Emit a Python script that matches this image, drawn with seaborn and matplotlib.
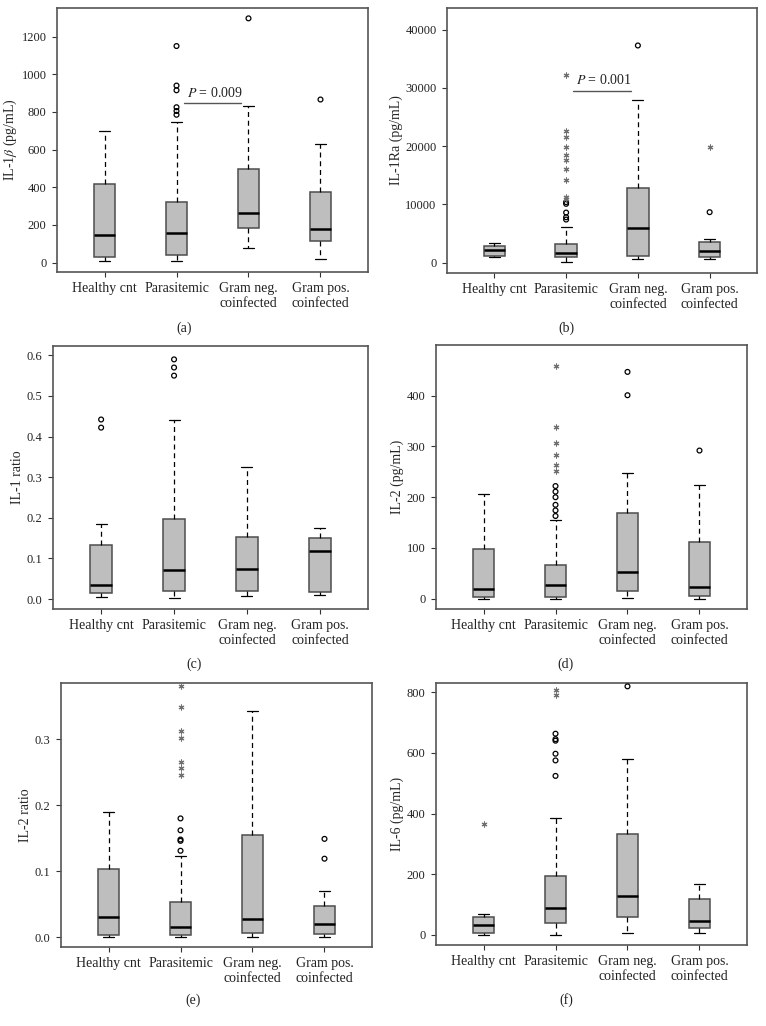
import matplotlib
matplotlib.use("Agg")
import matplotlib.pyplot as plt
import seaborn as sns

groups = ["Healthy cnt", "Parasitemic", "Gram neg.\ncoinfected", "Gram pos.\ncoinfected"]

# box stats per group: [low whisker, Q1, median, Q3, high whisker]
il1b_box = [[11, 31, 144, 415, 701], [9, 41, 158, 323, 744],
            [75, 183, 261, 497, 832], [18, 117, 178, 377, 632]]
il1b_circles = [[], [1150, 940, 915, 825, 805, 785], [1297], [866]]
il1b_stars = [[], [], [], []]

il1ra_box = [[975, 1200, 2240, 2810, 3440], [60, 920, 1720, 3210, 6140],
             [570, 1200, 5910, 12860, 28000], [630, 1030, 2010, 3500, 4075]]
il1ra_circles = [[], [10400, 10100, 8600, 7800, 7400], [37300], [8670]]
il1ra_stars = [[], [32300, 22600, 21600, 19800, 18500, 17600, 16000, 14200, 11300, 10900], [], [19860]]

il1ratio_box = [[0.005, 0.014, 0.034, 0.133, 0.184], [0.002, 0.020, 0.072, 0.196, 0.442],
                [0.008, 0.020, 0.073, 0.153, 0.326], [0.010, 0.018, 0.118, 0.151, 0.175]]
il1ratio_circles = [[0.442, 0.422], [0.590, 0.570, 0.550], [], []]
il1ratio_stars = [[], [], [], []]

il2_box = [[0, 3.3, 19, 97, 207], [0, 3.3, 27, 66, 155],
           [1.3, 15, 52, 169, 247], [0, 6, 23, 111, 224]]
il2_circles = [[], [222, 211, 200, 185, 174, 163], [447, 401], [292]]
il2_stars = [[], [458, 339, 306, 283, 264, 252], [], []]

il2ratio_box = [[0.001, 0.003, 0.030, 0.104, 0.190], [0.001, 0.003, 0.015, 0.054, 0.123],
                [0.001, 0.007, 0.027, 0.155, 0.343], [0.001, 0.005, 0.020, 0.048, 0.070]]
il2ratio_circles = [[], [0.180, 0.162, 0.148, 0.146, 0.131], [], [0.149, 0.119]]
il2ratio_stars = [[], [0.381, 0.348, 0.313, 0.302, 0.266, 0.256, 0.245], [], []]

il6_box = [[1, 6.6, 33, 59, 68], [1, 39, 89, 195, 385],
           [6.6, 59, 128, 332, 580], [5.5, 23, 47, 118, 167]]
il6_circles = [[], [663, 645, 640, 597, 575, 524], [819], []]
il6_stars = [[364], [808, 789], [], []]

# p-value brackets: (y, text)
pvals = {"a": (845, "$P$ = 0.009"), "b": (29560, "$P$ = 0.001")}

sns.set_theme(style="ticks")
plt.rcParams["font.family"] = ["Liberation Serif", "DejaVu Serif"]
plt.rcParams["mathtext.fontset"] = "stix"

W, H = 766, 1026
fig = plt.figure(figsize=(W / 100, H / 100), dpi=100)


def px_rect(l, t, r, b):
    return [l / W, 1 - b / H, (r - l) / W, (b - t) / H]


def draw_panel(ax, box, circles, stars, ylabel, ylim, yticks, yfmt):
    stats = [dict(whislo=b[0], q1=b[1], med=b[2], q3=b[3], whishi=b[4], fliers=[]) for b in box]
    ax.bxp(stats, positions=range(4), widths=0.3, patch_artist=True, showfliers=False,
           boxprops=dict(facecolor="#bebebe", edgecolor="#4d4d4d", linewidth=1.1),
           medianprops=dict(color="black", linewidth=1.8, solid_capstyle="butt"),
           whiskerprops=dict(color="black", linewidth=0.9, linestyle=(0, (4, 3))),
           capprops=dict(color="black", linewidth=0.9))
    cx = [i for i, v in enumerate(circles) for _ in v]
    cy = [y for v in circles for y in v]
    if cy:
        sns.scatterplot(x=cx, y=cy, ax=ax, marker="o", s=12, fc="none", ec="black",
                        linewidth=0.9, legend=False, zorder=3)
    sx = [i for i, v in enumerate(stars) for _ in v]
    sy = [y for v in stars for y in v]
    if sy:
        sns.scatterplot(x=sx, y=sy, ax=ax, marker=(6, 2, 0), s=13, color="#707070",
                        linewidth=0.8, legend=False, zorder=3)
    ax.set_xlim(-0.66, 3.66)
    ax.set_ylim(*ylim)
    ax.set_yticks(yticks)
    ax.set_yticklabels([yfmt.format(t) for t in yticks], fontsize=9)
    ax.set_xticks(range(4))
    ax.set_xticklabels(groups, fontsize=10, linespacing=1.15)
    ax.set_ylabel(ylabel, fontsize=10, labelpad=2)
    ax.set_xlabel("")
    ax.tick_params(axis="both", direction="out", length=3.5, width=0.8, color="#333333",
                   pad=4, labelcolor="#222222")
    for sp in ax.spines.values():
        sp.set_visible(True)
        sp.set_color("#555555")
        sp.set_linewidth(1.2)


panels = [
    ("a", px_rect(57, 8, 368, 272), il1b_box, il1b_circles, il1b_stars,
     r"IL-1$\it{\beta}$ (pg/mL)", (-50, 1352), list(range(0, 1201, 200)), "{:d}", (184, 328)),
    ("b", px_rect(447, 8, 757, 273), il1ra_box, il1ra_circles, il1ra_stars,
     "IL-1Ra (pg/mL)", (-1780, 43740), list(range(0, 40001, 10000)), "{:d}", (566, 328)),
    ("c", px_rect(53, 346, 368, 609), il1ratio_box, il1ratio_circles, il1ratio_stars,
     "IL-1 ratio", (-0.0246, 0.623), [0, 0.1, 0.2, 0.3, 0.4, 0.5, 0.6], "{:.1f}", (194, 664)),
    ("d", px_rect(436, 345, 747, 609), il2_box, il2_circles, il2_stars,
     "IL-2 (pg/mL)", (-20.3, 500), [0, 100, 200, 300, 400], "{:d}", (566, 664)),
    ("e", px_rect(61, 683, 372, 947), il2ratio_box, il2ratio_circles, il2ratio_stars,
     "IL-2 ratio", (-0.0147, 0.385), [0, 0.1, 0.2, 0.3], "{:.1f}", (193, 1000)),
    ("f", px_rect(436, 683, 747, 945), il6_box, il6_circles, il6_stars,
     "IL-6 (pg/mL)", (-33, 830), [0, 200, 400, 600, 800], "{:d}", (566, 1000)),
]

for tag, rect, box, circ, star, ylab, ylim, yt, fmt, tagpos in panels:
    ax = fig.add_axes(rect)
    draw_panel(ax, box, circ, star, ylab, ylim, yt, fmt)
    if tag in pvals:
        y, txt = pvals[tag]
        ax.plot([1.10, 1.90], [y, y], color="#555555", linewidth=1.0)
        ax.text(1.53, y + (ylim[1] - ylim[0]) * 0.012, txt, ha="center", va="bottom",
                fontsize=10, color="#222222")
    fig.text(tagpos[0] / W, 1 - tagpos[1] / H, f"({tag})", ha="center", va="center",
             fontsize=10, color="#222222")

fig.savefig("out.png", dpi=100)
